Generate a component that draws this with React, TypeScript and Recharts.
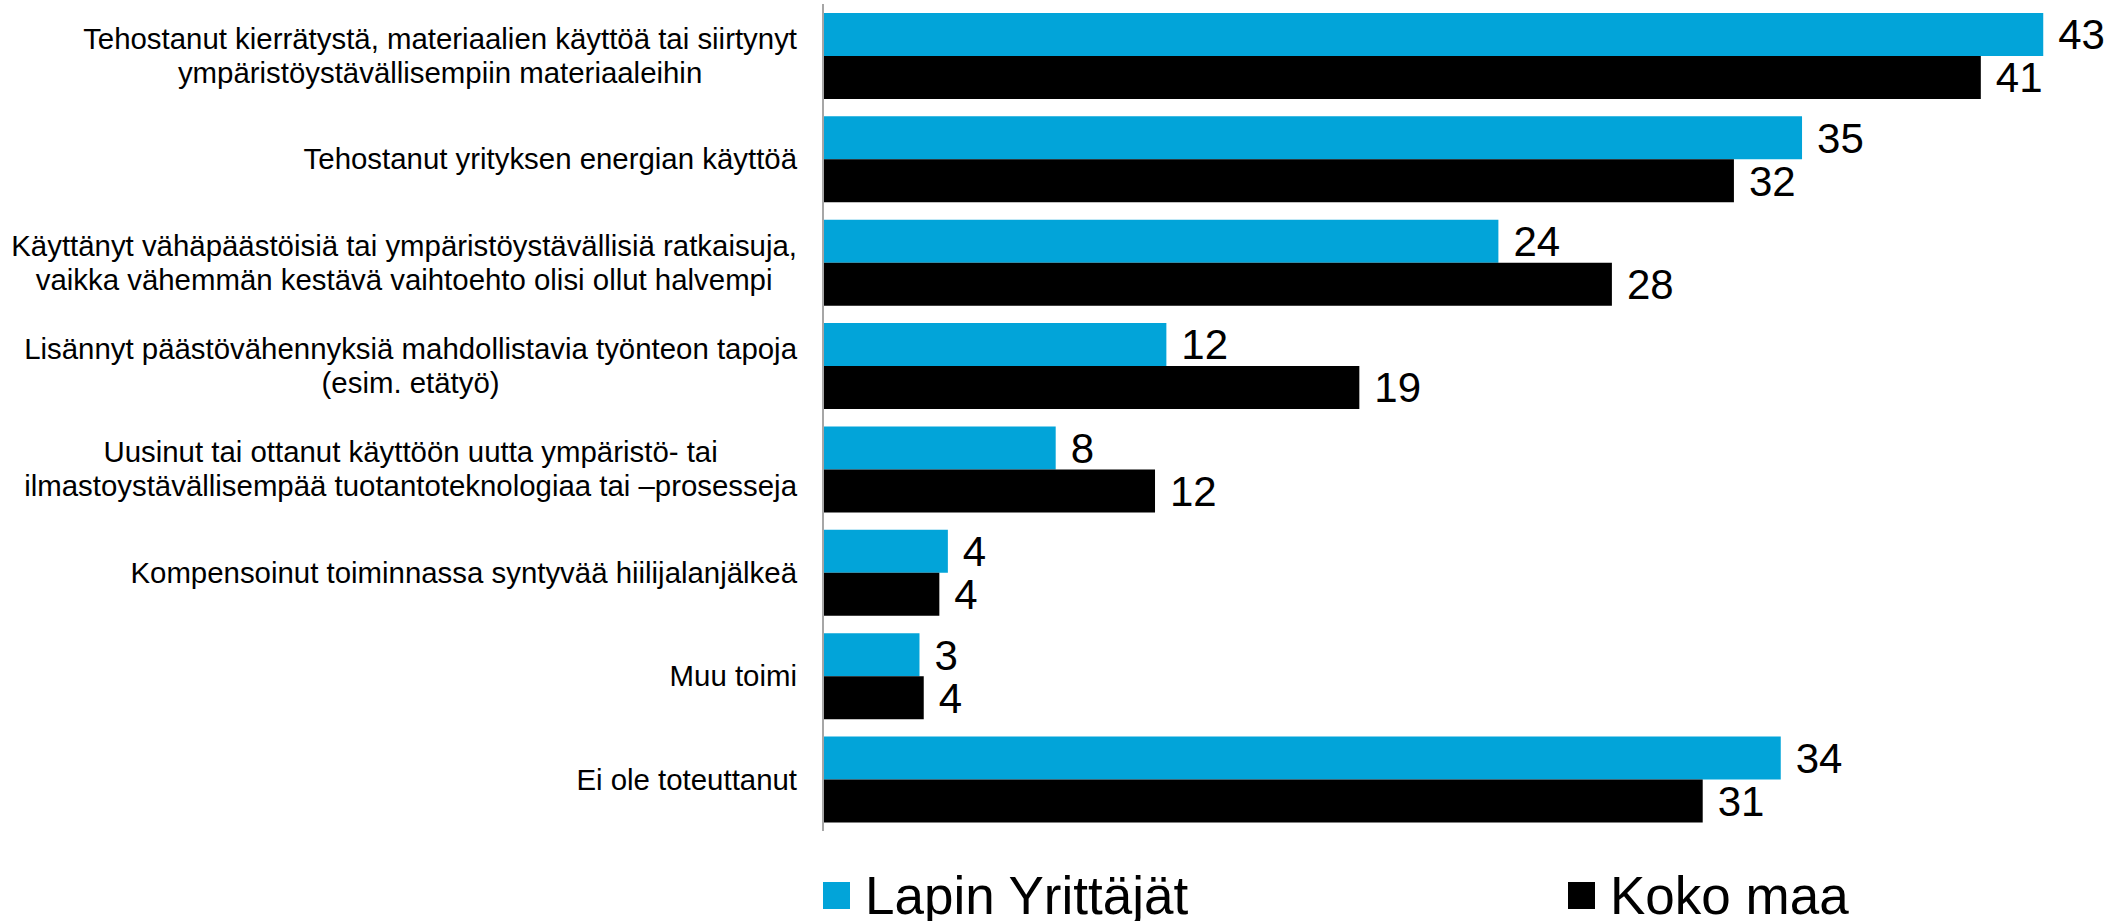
import React from 'react';
import { BarChart, Bar, XAxis, YAxis, LabelList, Legend } from 'recharts';

const categories: string[][] = [
  ['Tehostanut kierrätystä, materiaalien käyttöä tai siirtynyt', 'ympäristöystävällisempiin materiaaleihin'],
  ['Tehostanut yrityksen energian käyttöä'],
  ['Käyttänyt vähäpäästöisiä tai ympäristöystävällisiä ratkaisuja,', 'vaikka vähemmän kestävä vaihtoehto olisi ollut halvempi'],
  ['Lisännyt päästövähennyksiä mahdollistavia työnteon tapoja', '(esim. etätyö)'],
  ['Uusinut tai ottanut käyttöön uutta ympäristö- tai', 'ilmastoystävällisempää tuotantoteknologiaa tai –prosesseja'],
  ['Kompensoinut toiminnassa syntyvää hiilijalanjälkeä'],
  ['Muu toimi'],
  ['Ei ole toteuttanut'],
];
const lapin = [43.0, 34.5, 23.8, 12.1, 8.2, 4.4, 3.4, 33.75];
const koko = [40.8, 32.1, 27.8, 18.9, 11.7, 4.1, 3.55, 31.0];
const seriesNames = ['Lapin Yrittäjät', 'Koko maa'];

const BLUE = '#02A4D9';
const FONT = '"Liberation Sans", Arial, sans-serif';

const data = categories.map((c, i) => ({ name: c.join('\n'), lapin: lapin[i], koko: koko[i] }));

let ctx: CanvasRenderingContext2D | null = null;
function measure(t: string, size: number) {
  if (!ctx) ctx = document.createElement('canvas').getContext('2d');
  if (!ctx) return t.length * size * 0.5;
  ctx.font = `${size}px ${FONT}`;
  return ctx.measureText(t).width;
}

const TICK_SIZE = 29.4;
const LINE_H = 34;

const CategoryTick = (props: any) => {
  const { x, y, payload } = props;
  const lines: string[] = String(payload.value).split('\n');
  const right = x - 18;
  if (lines.length === 1) {
    return (
      <text x={right} y={y} dy="0.35em" textAnchor="end" fontSize={TICK_SIZE} fontFamily={FONT} fill="#000">
        {lines[0]}
      </text>
    );
  }
  const maxW = Math.max(...lines.map((l) => measure(l, TICK_SIZE)));
  const cx = right - maxW / 2;
  const startY = y - ((lines.length - 1) * LINE_H) / 2;
  return (
    <text textAnchor="middle" fontSize={TICK_SIZE} fontFamily={FONT} fill="#000">
      {lines.map((l, i) => (
        <tspan key={i} x={cx} y={startY + i * LINE_H} dy="0.35em">
          {l}
        </tspan>
      ))}
    </text>
  );
};

const legendLefts = [823, 1568];
const legendColors = [BLUE, '#000000'];

const CustomLegend = () => (
  <div style={{ position: 'relative', width: 2120, height: 61 }}>
    {seriesNames.map((n, i) => (
      <div
        key={n}
        style={{
          position: 'absolute',
          left: legendLefts[i],
          top: 0,
          height: 61,
          display: 'flex',
          alignItems: 'center',
          fontFamily: FONT,
          fontSize: 53,
          color: '#000',
          whiteSpace: 'nowrap',
        }}
      >
        <span style={{ display: 'inline-block', width: 27, height: 27, background: legendColors[i], marginRight: 15 }} />
        <span style={{ lineHeight: '61px' }}>{n}</span>
      </div>
    ))}
  </div>
);

export default function App() {
  return (
    <div style={{ position: 'absolute', left: 0, top: 0, width: 2120, height: 921, background: '#fff' }}>
      <BarChart
        width={2120}
        height={921}
        data={data}
        layout="vertical"
        margin={{ top: 4, right: 20, bottom: 90, left: 0 }}
        barCategoryGap="8.6%"
        barGap={0}
      >
        <XAxis type="number" domain={[0, 45]} hide />
        <YAxis
          type="category"
          dataKey="name"
          width={823}
          tickLine={false}
          axisLine={{ stroke: '#A6A6A6', strokeWidth: 2 }}
          tick={<CategoryTick />}
          interval={0}
        />
        <Legend
          layout="vertical"
          align="center"
          verticalAlign="middle"
          wrapperStyle={{ left: 0, top: 865, width: 2120, height: 61 }}
          content={<CustomLegend />}
        />
        <Bar dataKey="lapin" name={seriesNames[0]} fill={BLUE} isAnimationActive={false}>
          <LabelList
            dataKey="lapin"
            position="right"
            offset={15}
            fontSize={42}
            fontFamily={FONT}
            fill="#000"
            formatter={(v: any) => Math.round(Number(v))}
          />
        </Bar>
        <Bar dataKey="koko" name={seriesNames[1]} fill="#000000" isAnimationActive={false}>
          <LabelList
            dataKey="koko"
            position="right"
            offset={15}
            fontSize={42}
            fontFamily={FONT}
            fill="#000"
            formatter={(v: any) => Math.round(Number(v))}
          />
        </Bar>
      </BarChart>
    </div>
  );
}
